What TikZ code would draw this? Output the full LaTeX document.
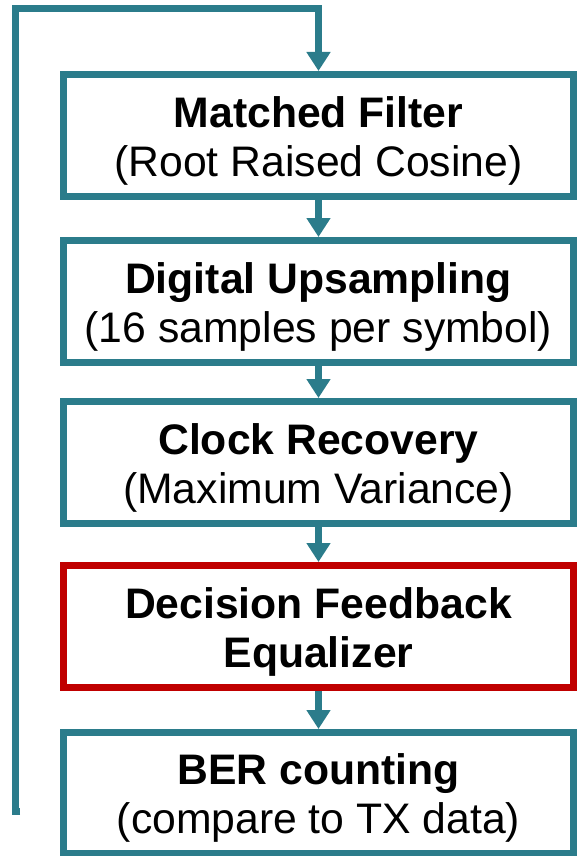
\documentclass[tikz,border=0pt]{standalone}
\usepackage{fontspec}
\setmainfont{Liberation Sans}
\usetikzlibrary{arrows.meta}
\definecolor{teal}{HTML}{2B7C8B}
\definecolor{darkred}{HTML}{C00000}
\tikzset{
  stage/.style={draw=teal, line width=7pt, rectangle, minimum width=510pt,
    minimum height=122pt, inner sep=0pt},
  stagered/.style={stage, draw=darkred},
  caption/.style={align=center, inner sep=0pt, font=\fontsize{42.7}{49}\selectfont,
    yshift=-5.6pt},
  flow/.style={draw=teal, line width=7pt, line join=miter,
    -{Triangle[width=23pt, length=19pt]}},
}
\begin{document}
\begin{tikzpicture}[x=1pt, y=-1pt]
\useasboundingbox (0,0) rectangle (577,856);

% processing chain
\node[stage] (mf) at (318.5,135.5) {};
\node[caption] (mf-t) at (mf.center) {\textbf{Matched Filter}\\(Root Raised Cosine)};

\node[stage] (up) at (318.5,301.5) {};
\node[caption] (up-t) at (up.center) {\textbf{Digital Upsampling}\\(16 samples per symbol)};

\node[stage] (cr) at (318.5,462.5) {};
\node[caption] (cr-t) at (cr.center) {\textbf{Clock Recovery}\\(Maximum Variance)};

\node[stagered] (dfe) at (318.5,626.5) {};
\node[caption] (dfe-t) at (dfe.center) {\textbf{Decision Feedback}\\\textbf{Equalizer}};

\node[stage, minimum height=120.5pt] (ber) at (318.5,792.75) {};
\node[caption] (ber-t) at (ber.center) {\textbf{BER counting}\\(compare to TX data)};

% forward connections
\draw[flow] (mf.south) -- (up.north);
\draw[flow] (up.south) -- (cr.north);
\draw[flow] (cr.south) -- (dfe.north);
\draw[flow] (dfe.south) -- (ber.north);

% feedback loop back to the matched filter
\coordinate (loop) at (20,811);
\draw[flow] (loop) -| (15.5,9) -| (mf.north);
\end{tikzpicture}
\end{document}
